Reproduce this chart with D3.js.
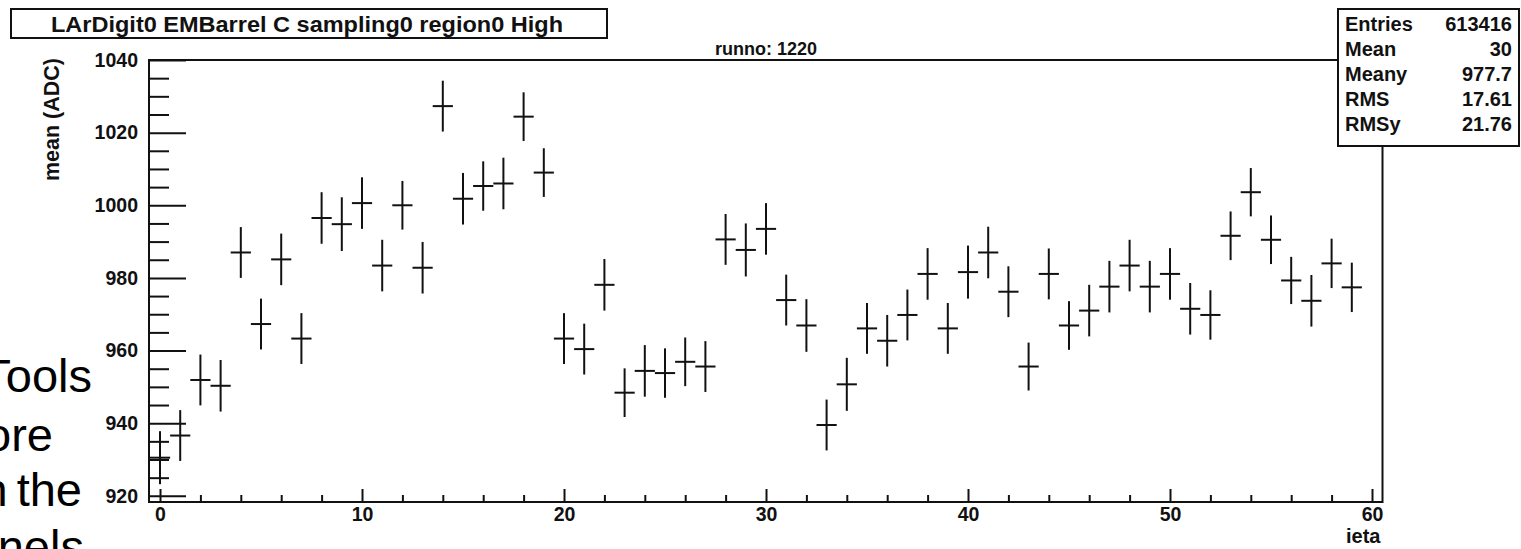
<!DOCTYPE html>
<html>
<head>
<meta charset="utf-8">
<script src="https://cdn.jsdelivr.net/npm/d3@7/dist/d3.min.js"></script>
<style>
  html, body { margin: 0; padding: 0; background: #fff; }
  svg { display: block; }
  text { font-family: "Liberation Sans", Arial, Helvetica, sans-serif; fill: #111; }
</style>
</head>
<body>
<svg id="chart" width="1521" height="549"></svg>
<script>
// ---------------- data ----------------
const ieta = [0,1,2,3,4,5,6,7,8,9,10,11,12,13,14,15,16,17,18,19,
              20,21,22,23,24,25,26,27,28,29,30,31,32,33,34,35,36,37,38,39,
              40,41,42,43,44,45,46,47,48,49,50,51,52,53,54,55,56,57,58,59];
const meanADC = [930.5, 936.6, 951.9, 950.3, 987.0, 967.3, 985.1, 963.3, 996.5, 994.8,
                 1000.6, 983.4, 1000.0, 982.8, 1027.3, 1001.8, 1005.3, 1006.0, 1024.4, 1009.0,
                 963.3, 960.4, 978.1, 948.4, 954.4, 953.8, 956.9, 955.6, 990.6, 987.7,
                 993.5, 973.9, 966.9, 939.5, 950.7, 966.1, 962.7, 969.8, 981.1, 966.1,
                 981.6, 987.0, 976.2, 955.6, 981.1, 966.9, 971.0, 977.6, 983.4, 977.6,
                 981.1, 971.5, 969.8, 991.6, 1003.6, 990.5, 979.3, 973.7, 984.0, 977.4];
const errADC = [7.3, 7.0, 7.0, 7.1, 7.0, 7.0, 7.1, 7.0, 7.1, 7.4,
                7.1, 7.1, 6.7, 7.1, 7.0, 7.1, 6.8, 7.1, 6.7, 6.7,
                7.0, 7.0, 7.1, 6.7, 7.1, 6.8, 6.7, 7.0, 7.0, 7.3,
                7.1, 7.0, 7.25, 7.0, 7.3, 7.0, 7.1, 7.0, 7.1, 7.0,
                7.3, 7.1, 7.0, 6.6, 7.0, 6.7, 7.1, 7.1, 7.1, 7.1,
                7.1, 7.1, 6.8, 6.7, 6.65, 6.7, 6.5, 7.1, 6.8, 6.8];
const xMajorTicks = [0, 10, 20, 30, 40, 50, 60];
const xMinorTicks = [2,4,6,8,12,14,16,18,22,24,26,28,32,34,36,38,42,44,46,48,52,54,56,58];
const yMajorTicks = [920, 940, 960, 980, 1000, 1020, 1040];
const yMinorTicks = [925,930,935,945,950,955,965,970,975,985,990,995,1005,1010,1015,1025,1030,1035];
const statLabels = ["Entries", "Mean", "Meany", "RMS", "RMSy"];
const statValues = ["613416", "30", "977.7", "17.61", "21.76"];
const titleText = "LArDigit0 EMBarrel C sampling0 region0 High";
const runText = "runno: 1220";
const xTitle = "ieta";
const yTitle = "mean (ADC)";
const slideLines = ["Tools", "ore", "n the", "nnels ."];

// ---------------- layout ----------------
const svg = d3.select("#chart");
const frame = {left: 149, right: 1382.5, top: 60, bottom: 502};
const x = d3.scaleLinear().domain([-0.545, 60.52]).range([frame.left, frame.right]);
const y = d3.scaleLinear().domain([918.3, 1040]).range([frame.bottom, frame.top]);
const ink = "#111";

// background slide text (partially hidden behind the plot / page edge)
const slideG = svg.append("g");
const slideEnds = [92, 53, 82, 110];
const slideBase = [392, 451, 506, 563];
slideLines.forEach((t, i) => {
  slideG.append("text")
    .attr("x", slideEnds[i]).attr("y", slideBase[i])
    .attr("text-anchor", "end")
    .style("font-size", "47px")
    .style("word-spacing", i === 2 ? "-4px" : "0px")
    .style("fill", "#000")
    .text(t);
});

// frame
svg.append("rect")
  .attr("x", frame.left).attr("y", frame.top)
  .attr("width", frame.right - frame.left).attr("height", frame.bottom - frame.top)
  .attr("fill", "#fff").attr("stroke", ink).attr("stroke-width", 2);

// axes
function styleAxis(g) {
  g.select(".domain").remove();
  g.selectAll(".tick line").attr("stroke", ink).attr("stroke-width", 2);
  g.selectAll(".tick text").style("font-size", "19.5px").style("font-weight", "bold").attr("fill", ink);
}
svg.append("g").attr("transform", `translate(0,${frame.bottom})`)
  .call(d3.axisBottom(x).tickValues(xMinorTicks).tickSize(-7).tickFormat(""))
  .call(styleAxis);
svg.append("g").attr("transform", `translate(0,${frame.bottom})`)
  .call(d3.axisBottom(x).tickValues(xMajorTicks).tickSize(-13).tickPadding(5).tickFormat(d3.format("d")))
  .call(styleAxis);
svg.append("g").attr("transform", `translate(${frame.left},0)`)
  .call(d3.axisLeft(y).tickValues(yMinorTicks).tickSize(-20).tickFormat(""))
  .call(styleAxis);
svg.append("g").attr("transform", `translate(${frame.left},0)`)
  .call(d3.axisLeft(y).tickValues(yMajorTicks).tickSize(-37).tickPadding(11).tickFormat(d3.format("d")))
  .call(styleAxis);

// data points with error bars
const pts = svg.append("g").attr("stroke", ink).attr("stroke-width", 2);
ieta.forEach((xi, i) => {
  const v = meanADC[i], e = errADC[i];
  pts.append("line")
    .attr("x1", x(xi - 0.5)).attr("x2", x(xi + 0.5))
    .attr("y1", y(v)).attr("y2", y(v));
  pts.append("line")
    .attr("x1", x(xi)).attr("x2", x(xi))
    .attr("y1", y(v - e)).attr("y2", y(v + e));
});

// axis titles
svg.append("text")
  .attr("x", frame.right - 2).attr("y", 543)
  .attr("text-anchor", "end")
  .style("font-size", "20px").style("font-weight", "bold")
  .text(xTitle);
svg.append("text")
  .attr("transform", "translate(59,58) rotate(-90)")
  .attr("text-anchor", "end")
  .style("font-size", "21.5px").style("font-weight", "bold")
  .text(yTitle);

// run number
svg.append("text")
  .attr("x", 766).attr("y", 55)
  .attr("text-anchor", "middle")
  .style("font-size", "18px").style("font-weight", "bold")
  .text(runText);

// title box
svg.append("rect")
  .attr("x", 11).attr("y", 9).attr("width", 596).attr("height", 29)
  .attr("fill", "#fff").attr("stroke", ink).attr("stroke-width", 2);
svg.append("text")
  .attr("x", 307).attr("y", 31.5)
  .attr("text-anchor", "middle")
  .attr("textLength", 512)
  .attr("lengthAdjust", "spacingAndGlyphs")
  .style("font-size", "22.5px").style("font-weight", "bold")
  .text(titleText);

// stats box
const sb = {x: 1338, y: 9, w: 181, h: 137};
svg.append("rect")
  .attr("x", sb.x).attr("y", sb.y).attr("width", sb.w).attr("height", sb.h)
  .attr("fill", "#fff").attr("stroke", ink).attr("stroke-width", 2);
statLabels.forEach((lab, i) => {
  const base = 30.5 + i * 25.2;
  svg.append("text").attr("x", 1345).attr("y", base)
    .style("font-size", "20px").style("font-weight", "bold").text(lab);
  svg.append("text").attr("x", 1512).attr("y", base)
    .attr("text-anchor", "end")
    .style("font-size", "20px").style("font-weight", "bold").text(statValues[i]);
});
</script>
</body>
</html>
